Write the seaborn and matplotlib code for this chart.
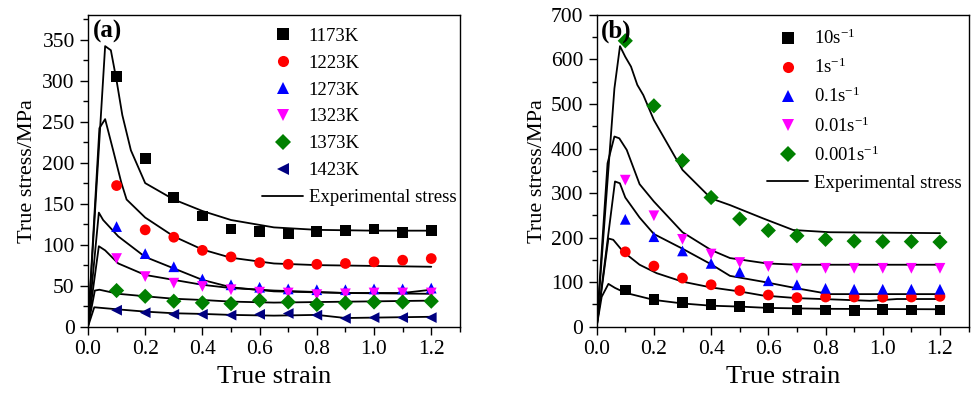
import numpy as np
import pandas as pd
import matplotlib
matplotlib.use('Agg')
import matplotlib.pyplot as plt
from matplotlib.lines import Line2D
from matplotlib.ticker import MultipleLocator
import seaborn as sns

# ---- data ----
strain_pts = [0.1, 0.2, 0.3, 0.4, 0.5, 0.6, 0.7, 0.8, 0.9, 1.0, 1.1, 1.2]

# panel (a): predicted stress at different temperatures
temps = ['1173K', '1223K', '1273K', '1323K', '1373K', '1423K']
a_1173 = [305, 205, 157, 135, 119, 116, 114, 116, 117, 119, 115, 117]
a_1223 = [172, 118, 109, 93, 85, 78, 76, 76, 77, 79, 81, 83]
a_1273 = [122, 89, 73, 58, 51, 48, 46, 45, 45, 46, 46, 47]
a_1323 = [83, 61, 53, 49, 45, 42, 41, 39, 40, 41, 41, 41]
a_1373 = [44, 37, 31, 29, 28, 32, 30, 27, 29, 30, 30, 31]
a_1423 = [20, 17, 15, 15, 14, 15, 16, 14, 10, 11, 11, 11]

# panel (a): experimental curves
ca_1173_x = [0, 0.06, 0.08, 0.1, 0.12, 0.15, 0.2, 0.3, 0.4, 0.5, 0.65, 0.8, 1.0, 1.2]
ca_1173_y = [0, 342, 337, 300, 258, 215, 175, 155, 141, 130, 121, 118, 117, 117]
ca_1223_x = [0, 0.04, 0.06, 0.088, 0.117, 0.135, 0.2, 0.3, 0.4, 0.5, 0.65, 0.8, 1.0, 1.2]
ca_1223_y = [0, 242, 253, 215, 175, 155, 133, 110, 94, 84, 77, 75, 74, 73]
ca_1273_x = [0, 0.038, 0.053, 0.106, 0.2, 0.3, 0.4, 0.5, 0.65, 0.9, 1.1, 1.2]
ca_1273_y = [0, 139, 130, 110, 85, 71, 57, 48, 43, 41, 41, 45]
ca_1323_x = [0, 0.038, 0.06, 0.106, 0.2, 0.3, 0.4, 0.5, 0.65, 0.9, 1.2]
ca_1323_y = [0, 98, 93, 77, 63, 57, 51, 47, 44, 41, 40]
ca_1373_x = [0, 0.024, 0.04, 0.106, 0.2, 0.3, 0.4, 0.5, 0.65, 1.2]
ca_1373_y = [0, 44, 45, 40, 37, 34, 32.5, 30.5, 29.3, 31.7]
ca_1423_x = [0, 0.022, 0.106, 0.2, 0.3, 0.4, 0.5, 0.65, 0.8, 0.9, 1.2]
ca_1423_y = [0, 23.6, 21, 18.3, 16.3, 15.5, 14.3, 13.4, 14.3, 10.5, 12]

# panel (b): predicted stress at different strain rates
rates = ['10s$^{-1}$', '1s$^{-1}$', '0.1s$^{-1}$', '0.01s$^{-1}$', '0.001s$^{-1}$']
b_10 = [82, 61, 54, 49, 46, 42, 37.5, 37.5, 36, 39, 37.5, 37.5]
b_1 = [168, 136, 109, 94, 81, 71, 65, 66.5, 66.5, 66, 66.5, 68]
b_01 = [241, 202, 170, 142, 123, 103, 94, 86, 84, 84, 84, 84]
b_001 = [329, 249, 196, 163, 144, 135, 131, 131, 131, 131, 131, 131]
b_0001 = [642, 496, 373, 290, 242, 216, 204, 196, 192, 191, 191, 190]

# panel (b): experimental curves
cb_10_x = [0, 0.0175, 0.041, 0.064, 0.1, 0.2, 0.3, 0.4, 0.5, 0.6, 0.8, 1.2]
cb_10_y = [0, 67, 96, 87, 76, 60, 52, 47, 45, 42, 40, 39]
cb_1_x = [0, 0.041, 0.058, 0.093, 0.15, 0.21, 0.3, 0.4, 0.5, 0.58, 0.7, 0.83, 0.955, 1.05, 1.2]
cb_1_y = [0, 198, 195, 168, 139, 120, 101, 88, 79, 70, 64, 61, 58, 62, 62]
cb_01_x = [0, 0.064, 0.081, 0.1, 0.15, 0.2, 0.3, 0.4, 0.466, 0.58, 0.7, 0.815, 1.2]
cb_01_y = [0, 326, 322, 290, 245, 208, 175, 140, 114, 101, 86, 73, 73]
cb_001_x = [0, 0.038, 0.062, 0.079, 0.105, 0.15, 0.2, 0.3, 0.4, 0.466, 0.594, 0.7, 1.2]
cb_001_y = [0, 367, 427, 423, 397, 320, 281, 212, 172, 154, 142, 139, 139]
cb_0001_x = [0, 0.062, 0.0815, 0.1, 0.12, 0.142, 0.163, 0.2, 0.3, 0.4, 0.466, 0.582, 0.687, 0.815, 1.2]
cb_0001_y = [0, 535, 630, 606, 584, 543, 520, 464, 352, 288, 273, 243, 217, 212, 210]

colors = ['#000000', '#ff0000', '#0000ff', '#ff00ff', '#008000', '#000080']
marks = ['s', 'o', '^', 'v', 'D', '<']


def long_points(labels, series):
    return pd.DataFrame({
        'strain': np.tile(strain_pts, len(series)),
        'stress': np.concatenate(series),
        'label': np.repeat(labels, len(strain_pts)),
    })


def long_curves(xs, ys):
    frames = [pd.DataFrame({'strain': x, 'stress': y, 'curve': i})
              for i, (x, y) in enumerate(zip(xs, ys))]
    return pd.concat(frames, ignore_index=True)


pts_a = long_points(temps, [a_1173, a_1223, a_1273, a_1323, a_1373, a_1423])
cur_a = long_curves([ca_1173_x, ca_1223_x, ca_1273_x, ca_1323_x, ca_1373_x, ca_1423_x],
                    [ca_1173_y, ca_1223_y, ca_1273_y, ca_1323_y, ca_1373_y, ca_1423_y])
pts_b = long_points(rates, [b_10, b_1, b_01, b_001, b_0001])
cur_b = long_curves([cb_10_x, cb_1_x, cb_01_x, cb_001_x, cb_0001_x],
                    [cb_10_y, cb_1_y, cb_01_y, cb_001_y, cb_0001_y])

sns.set_style('ticks')
plt.rcParams['font.family'] = ['Liberation Serif', 'DejaVu Serif']
plt.rcParams['mathtext.fontset'] = 'custom'
plt.rcParams['mathtext.rm'] = 'Liberation Serif'
plt.rcParams['mathtext.it'] = 'Liberation Serif:italic'
for key in ['text.color', 'axes.labelcolor', 'xtick.color', 'ytick.color', 'axes.edgecolor']:
    plt.rcParams[key] = 'black'

fig = plt.figure(figsize=(9.71, 3.94), dpi=100)
ax1 = fig.add_axes([0.0906, 0.171, 0.383, 0.791])
ax2 = fig.add_axes([0.6145, 0.171, 0.383, 0.791])


def draw(ax, pts, cur, labels, ymax, ymaj, ymin, tag, leg_xy, spacing):
    n = len(labels)
    sns.lineplot(data=cur, x='strain', y='stress', units='curve', estimator=None,
                 sort=False, color='black', lw=1.3, ax=ax, legend=False)
    sns.scatterplot(data=pts, x='strain', y='stress', hue='label', style='label',
                    palette=colors[:n], markers=marks[:n], s=60, linewidth=0,
                    ax=ax, legend=False, zorder=3)
    ax.set_xlim(0, 1.3)
    ax.set_ylim(0, ymax)
    ax.xaxis.set_major_locator(MultipleLocator(0.2))
    ax.xaxis.set_minor_locator(MultipleLocator(0.1))
    ax.yaxis.set_major_locator(MultipleLocator(ymaj))
    ax.yaxis.set_minor_locator(MultipleLocator(ymin))
    ax.tick_params(which='major', direction='out', length=6, width=1,
                   labelsize=15.5, colors='black')
    ax.tick_params(which='minor', direction='out', length=3.5, width=1)
    for sp in ax.spines.values():
        sp.set_visible(True)
        sp.set_linewidth(1)
        sp.set_color('black')
    ax.set_xlabel('True strain', fontsize=19, labelpad=5)
    ax.set_ylabel('True stress/MPa', fontsize=16)
    ax.text(0.012, 0.985, tag, transform=ax.transAxes, ha='left', va='top',
            fontsize=18, fontweight='bold')

    handles = [Line2D([], [], ls='none', marker=marks[i], color=colors[i],
                      markersize=8, markeredgewidth=0) for i in range(n)]
    handles.append(Line2D([], [], color='black', lw=1.3))
    ax.legend(handles, labels + ['Experimental stress'], loc='upper left',
              bbox_to_anchor=leg_xy, frameon=False, fontsize=13.5, borderpad=0,
              borderaxespad=0, handlelength=2.2, handletextpad=0.3,
              labelspacing=spacing, numpoints=1)


draw(ax1, pts_a, cur_a, temps, 380, 50, 25, '(a)', (0.468, 0.959), 0.52)
draw(ax2, pts_b, cur_b, rates, 700, 100, 50, '(b)', (0.458, 0.956), 0.52)
ax1.yaxis.labelpad = 3.5
ax2.yaxis.labelpad = 3

plt.savefig('out.png', dpi=100)
